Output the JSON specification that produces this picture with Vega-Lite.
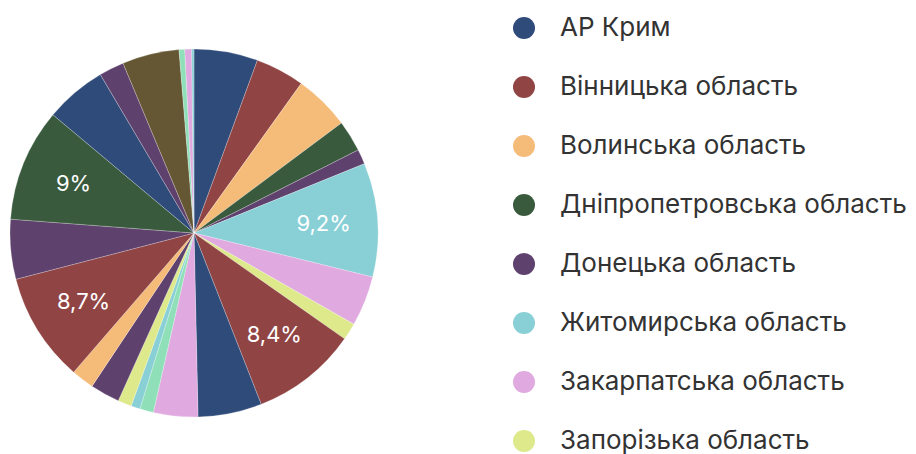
{
  "$schema": "https://vega.github.io/schema/vega-lite/v6.json",
  "autosize": {"type": "none"},
  "width": 368,
  "height": 368,
  "padding": {"left": 10, "top": 49, "right": 538, "bottom": 37},
  "background": "white",
  "config": {"view": {"stroke": null}, "font": "Inter"},
  "data": {
    "values": [
      {"n": 1, "name": "АР Крим", "v": 5.6, "label": ""},
      {"n": 2, "name": "Вінницька область", "v": 4.3, "label": ""},
      {"n": 3, "name": "Волинська область", "v": 4.9, "label": ""},
      {"n": 4, "name": "Дніпропетровська область", "v": 2.75, "label": ""},
      {"n": 5, "name": "Донецька область", "v": 1.3, "label": ""},
      {"n": 6, "name": "Житомирська область", "v": 10.0, "label": "9,2%"},
      {"n": 7, "name": "Закарпатська область", "v": 4.4, "label": ""},
      {"n": 8, "name": "Запорізька область", "v": 1.5, "label": ""},
      {"n": 9, "name": "Івано-Франківська область", "v": 9.3, "label": "8,4%"},
      {"n": 10, "name": "Київська область", "v": 5.6, "label": ""},
      {"n": 11, "name": "Кіровоградська область", "v": 3.9, "label": ""},
      {"n": 12, "name": "Луганська область", "v": 1.2, "label": ""},
      {"n": 13, "name": "Львівська область", "v": 0.8, "label": ""},
      {"n": 14, "name": "Миколаївська область", "v": 1.2, "label": ""},
      {"n": 15, "name": "Одеська область", "v": 2.6, "label": ""},
      {"n": 16, "name": "Полтавська область", "v": 2.0, "label": ""},
      {"n": 17, "name": "Рівненська область", "v": 9.6, "label": "8,7%"},
      {"n": 18, "name": "Сумська область", "v": 5.25, "label": ""},
      {"n": 19, "name": "Тернопільська область", "v": 9.9, "label": "9%"},
      {"n": 20, "name": "Харківська область", "v": 5.4, "label": ""},
      {"n": 21, "name": "Херсонська область", "v": 2.2, "label": ""},
      {"n": 22, "name": "Хмельницька область", "v": 5.0, "label": ""},
      {"n": 23, "name": "Черкаська область", "v": 0.5, "label": ""},
      {"n": 24, "name": "Чернівецька область", "v": 0.6, "label": ""},
      {"n": 25, "name": "Чернігівська область", "v": 0.2, "label": ""}
    ]
  },
  "encoding": {
    "theta": {"field": "v", "type": "quantitative", "stack": true},
    "order": {"field": "n", "type": "quantitative"}
  },
  "layer": [
    {
      "mark": {"type": "arc", "stroke": "#ffffff", "strokeWidth": 0.4, "strokeOpacity": 0.6},
      "encoding": {
        "color": {
          "field": "name",
          "type": "nominal",
          "scale": {
            "domain": ["АР Крим", "Вінницька область", "Волинська область", "Дніпропетровська область", "Донецька область", "Житомирська область", "Закарпатська область", "Запорізька область", "Івано-Франківська область", "Київська область", "Кіровоградська область", "Луганська область", "Львівська область", "Миколаївська область", "Одеська область", "Полтавська область", "Рівненська область", "Сумська область", "Тернопільська область", "Харківська область", "Херсонська область", "Хмельницька область", "Черкаська область", "Чернівецька область", "Чернігівська область"],
            "range": ["#2f4b7a", "#914444", "#f5bb78", "#3a5a3d", "#5f416e", "#89d0d6", "#e0a9e0", "#dde98a", "#914444", "#2f4b7a", "#e0a9e0", "#8fe0b8", "#89d0d6", "#dde98a", "#5f416e", "#f5bb78", "#914444", "#5f416e", "#3a5a3d", "#2f4b7a", "#5f416e", "#655733", "#8fe0b8", "#e0a9e0", "#89d0d6"]
          },
          "legend": {
            "title": null,
            "orient": "none",
            "legendX": 501,
            "legendY": -34,
            "padding": 0,
            "symbolType": "circle",
            "symbolSize": 484,
            "symbolStrokeWidth": 0,
            "labelFont": "Inter",
            "labelFontSize": 26,
            "labelColor": "#333333",
            "labelOffset": 23,
            "labelLimit": 0,
            "rowPadding": 33,
            "columns": 1
          }
        }
      }
    },
    {
      "mark": {"type": "text", "radius": 130, "color": "#ffffff", "font": "Inter", "fontSize": 22, "baseline": "middle", "align": "center"},
      "encoding": {
        "text": {"field": "label", "type": "nominal"}
      }
    }
  ]
}
